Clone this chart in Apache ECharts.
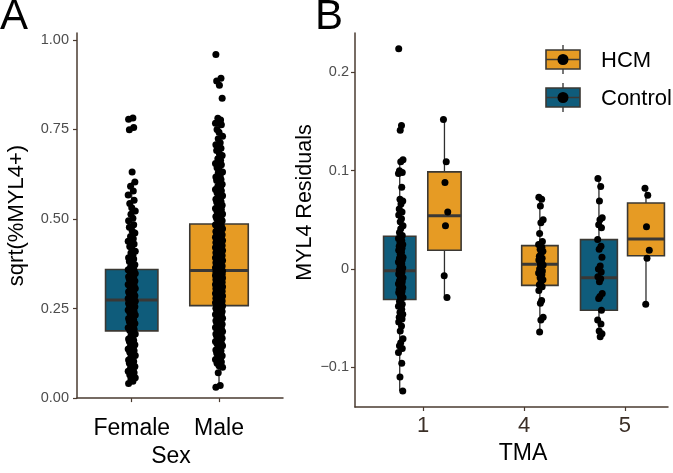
<!DOCTYPE html>
<html><head><meta charset="utf-8">
<script src="https://cdn.jsdelivr.net/npm/echarts@6/dist/echarts.min.js"></script>
<style>html,body{margin:0;padding:0;background:#fff}#c{width:673px;height:473px}</style>
</head><body><div id="c"></div>
<script>
// ---------- Panel A data ----------
const sexCategories = ['Female', 'Male'];
// [lower whisker, Q1, median, Q3, upper whisker]
const sexBoxStats = [
  [0.041, 0.1875, 0.274, 0.359, 0.603],
  [0.030, 0.258, 0.356, 0.486, 0.781]
];
const femaleValues = [
  0.041,0.047,0.053,0.057,0.062,0.065,0.071,0.075,0.079,0.084,0.088,0.094,0.097,0.102,0.106,0.111,0.115,0.119,0.123,0.128,0.132,0.137,0.140,0.146,0.149,0.152,0.158,0.161,0.165,0.169,0.173,0.179,0.184,
  0.189,0.192,0.196,0.200,0.203,0.208,0.211,0.214,0.218,0.222,0.225,0.229,0.232,0.236,0.239,0.242,0.246,0.249,0.251,0.255,0.257,0.260,0.262,0.265,0.267,0.268,0.270,0.272,0.273,
  0.276,0.278,0.281,0.284,0.286,0.288,0.292,0.294,0.297,0.301,0.303,0.306,0.309,0.312,0.315,0.317,0.321,0.323,0.327,0.330,0.332,0.336,0.339,0.341,0.345,0.348,0.351,0.354,0.356,0.358,
  0.363,0.366,0.372,0.375,0.381,0.388,0.392,0.399,0.405,0.410,0.418,0.423,0.430,0.438,0.445,0.451,0.461,0.467,0.477,0.484,0.495,0.502,0.513,0.522,0.531,0.543,0.552,0.567,0.578,0.591,0.603,
  0.631,0.749,0.755,0.778,0.782
];
const maleValues = [
  0.030,0.035,0.071,0.086,0.090,0.097,0.101,0.108,0.110,0.116,0.118,0.124,0.126,0.132,0.134,0.139,0.141,0.146,0.147,0.152,0.153,0.158,0.160,0.164,0.167,0.168,0.173,0.175,0.179,0.181,0.184,0.186,0.190,0.191,0.195,0.197,0.200,0.202,0.206,0.207,0.211,0.213,0.216,0.218,0.222,0.223,0.227,0.228,0.232,0.233,0.237,0.238,0.242,0.243,0.246,0.248,0.251,0.252,0.255,0.257,
  0.259,0.262,0.263,0.266,0.267,0.270,0.271,0.274,0.275,0.278,0.279,0.282,0.283,0.285,0.287,0.289,0.291,0.292,0.295,0.296,0.298,0.299,0.302,0.303,0.305,0.307,0.308,0.311,0.312,0.314,0.316,0.317,0.320,0.321,0.323,0.324,0.327,0.328,0.330,0.331,0.334,0.335,0.337,0.338,0.340,0.342,0.343,0.345,0.346,0.348,0.349,0.351,0.352,0.353,0.354,0.355,
  0.357,0.360,0.361,0.364,0.365,0.368,0.369,0.372,0.373,0.376,0.378,0.380,0.382,0.384,0.386,0.388,0.390,0.392,0.394,0.396,0.398,0.400,0.402,0.404,0.406,0.408,0.410,0.412,0.414,0.416,0.418,0.420,0.422,0.424,0.426,0.428,0.430,0.432,0.434,0.436,0.438,0.440,0.442,0.444,0.447,0.449,0.451,0.453,0.456,0.458,0.460,0.463,0.465,0.468,0.470,0.473,0.475,0.478,0.481,0.484,
  0.489,0.490,0.495,0.498,0.501,0.502,0.507,0.510,0.513,0.514,0.519,0.521,0.526,0.529,0.531,0.536,0.538,0.543,0.547,0.549,0.555,0.557,0.563,0.565,0.571,0.573,0.579,0.582,0.588,0.591,0.597,0.600,0.607,0.610,0.617,0.620,0.628,0.631,0.639,0.643,0.651,0.655,0.664,0.668,0.677,0.682,0.691,0.697,0.707,0.713,0.724,0.731,0.742,0.750,0.763,0.767,0.776,0.781,
  0.837,0.873,0.885,0.893,0.959
];

// ---------- Panel B data ----------
const tmaCategories = ['1', '4', '5'];
const groupNames = ['HCM', 'Control'];
const tmaBoxCategory = ['1', '1', '4', '5', '5'];
const tmaBoxGroup = ['Control', 'HCM', 'HCM', 'Control', 'HCM'];
const tmaBoxStats = [
  [-0.124, -0.031, -0.0017, 0.0332, 0.111],
  [-0.029, 0.019, 0.0542, 0.0987, 0.152],
  [-0.064, -0.0167, 0.0047, 0.0237, 0.073],
  [-0.069, -0.042, -0.0089, 0.0298, 0.092],
  [-0.036, 0.0135, 0.0305, 0.0671, 0.082]
];
const tma1ControlValues = [
  0.224,0.146,0.141,0.111,0.109,0.100,0.098,0.097,0.083,0.071,0.069,0.066,0.061,0.058,0.055,0.051,0.048,0.044,0.041,0.037,0.034,
  0.031,0.029,0.027,0.025,0.022,0.023,0.021,0.019,0.017,0.015,0.012,0.013,0.011,0.009,0.007,0.005,0.003,0.001,0.000,-0.001,
  -0.003,-0.005,-0.007,-0.008,-0.009,-0.011,-0.012,-0.013,-0.015,-0.016,-0.017,-0.019,-0.020,-0.021,-0.023,-0.024,-0.026,-0.027,-0.029,-0.030,
  -0.033,-0.036,-0.038,-0.041,-0.044,-0.046,-0.047,-0.049,-0.051,-0.054,-0.058,-0.063,-0.071,-0.075,-0.078,-0.081,-0.085,-0.096,-0.110,-0.124
];
const tma1HcmValues = [0.152, 0.109, 0.088, 0.058, 0.044, -0.007, -0.029];
const tma4HcmValues = [
  0.073,0.071,0.064,0.050,0.047,0.036,0.028,0.025,0.022,0.020,0.018,0.016,0.013,0.011,0.009,0.007,0.005,0.004,0.002,0.000,
  -0.002,-0.004,-0.006,-0.009,-0.011,-0.013,-0.016,-0.018,-0.022,-0.032,-0.035,-0.049,-0.052,-0.064
];
const tma5ControlValues = [
  0.092,0.084,0.069,0.052,0.050,0.045,0.042,0.030,0.023,0.020,0.012,0.003,0.000,-0.003,-0.008,-0.010,-0.013,-0.025,-0.028,-0.030,-0.042,-0.052,-0.056,-0.063,-0.066,-0.069
];
const tma5HcmValues = [0.082, 0.075, 0.043, 0.019, 0.011, -0.036];
const tmaPointSets = [tma1ControlValues, tma1HcmValues, tma4HcmValues, tma5ControlValues, tma5HcmValues];

// ---------- layout / style (not data) ----------
const COLORS = { HCM: '#E69B24', Control: '#0F5C7B' };
const BORDER = '#3b3833';
const AXIS = '#4a3b30';
const FONT = "'Liberation Sans', Arial, Helvetica, sans-serif";
const sexBoxColor = [COLORS.Control, COLORS.HCM];
const sexBoxWidth = [0.6, 0.67];
const tmaDodge = [-0.231, 0.212, 0.157, -0.258, 0.208];
const tmaBoxWidth = [0.32, 0.33, 0.36, 0.365, 0.365];
const jitterPattern = [-0.8, 0.3, -0.2, 0.9, 0.0, -0.5, 0.6, -0.9, 0.4, -0.3, 0.8, 0.1, -0.6, 0.5];

function jitter(values, center, half) {
  return values.map((v, i) => [center + jitterPattern[i % jitterPattern.length] * half, v]);
}

function boxRenderer(widths, colorFn) {
  return function (params, api) {
    const x = api.value(0);
    const lo = api.coord([x, api.value(1)]);
    const q1 = api.coord([x, api.value(2)]);
    const md = api.coord([x, api.value(3)]);
    const q3 = api.coord([x, api.value(4)]);
    const hi = api.coord([x, api.value(5)]);
    const w = api.size([widths[params.dataIndex], 0])[0];
    const wl = { stroke: '#2e2e2e', lineWidth: 1.3 };
    return {
      type: 'group',
      children: [
        { type: 'line', shape: { x1: hi[0], y1: hi[1], x2: q3[0], y2: q3[1] }, style: wl },
        { type: 'line', shape: { x1: q1[0], y1: q1[1], x2: lo[0], y2: lo[1] }, style: wl },
        { type: 'rect', shape: { x: q3[0] - w / 2, y: q3[1], width: w, height: q1[1] - q3[1] },
          style: { fill: colorFn(params.dataIndex), stroke: BORDER, lineWidth: 1.6 } },
        { type: 'line', shape: { x1: md[0] - w / 2, y1: md[1], x2: md[0] + w / 2, y2: md[1] },
          style: { stroke: '#3a3836', lineWidth: 3 } }
      ]
    };
  };
}

const chart = echarts.init(document.getElementById('c'), null, { renderer: 'canvas' });

const axisLineStyle = { show: true, onZero: false, lineStyle: { color: AXIS, width: 1.5 } };

const series = [];
series.push({
  type: 'custom', xAxisIndex: 0, yAxisIndex: 0, z: 2,
  renderItem: boxRenderer(sexBoxWidth, i => sexBoxColor[i]),
  encode: { x: 0, y: [1, 2, 3, 4, 5] },
  data: sexBoxStats.map((s, i) => [i + 1].concat(s))
});
[femaleValues, maleValues].forEach((vals, i) => {
  series.push({
    type: 'scatter', xAxisIndex: 0, yAxisIndex: 0, z: 5, symbolSize: 7,
    itemStyle: { color: '#000', opacity: 1 }, silent: true,
    data: jitter(vals, i + 1, 0.045)
  });
});
const tmaCenters = tmaBoxCategory.map((c, i) => tmaCategories.indexOf(c) + 1 + tmaDodge[i]);
series.push({
  type: 'custom', xAxisIndex: 1, yAxisIndex: 1, z: 2,
  renderItem: boxRenderer(tmaBoxWidth, i => COLORS[tmaBoxGroup[i]]),
  encode: { x: 0, y: [1, 2, 3, 4, 5] },
  data: tmaBoxStats.map((s, i) => [tmaCenters[i]].concat(s))
});
tmaPointSets.forEach((vals, i) => {
  series.push({
    type: 'scatter', xAxisIndex: 1, yAxisIndex: 1, z: 5, symbolSize: 7,
    itemStyle: { color: '#000', opacity: 1 }, silent: true,
    data: jitter(vals, tmaCenters[i] + 0.01, 0.025)
  });
});

// legend drawn as graphic
const legendItems = [];
groupNames.forEach((g, k) => {
  const top = 50 + k * 38, cx = 563, cy = top + 9.5;
  legendItems.push(
    { type: 'line', shape: { x1: cx, y1: top - 5, x2: cx, y2: top + 24 }, style: { stroke: '#2e2e2e', lineWidth: 1.3 } },
    { type: 'rect', shape: { x: 546, y: top, width: 34, height: 19 }, style: { fill: COLORS[g], stroke: BORDER, lineWidth: 1.6 } },
    { type: 'line', shape: { x1: 546, y1: cy, x2: 580, y2: cy }, style: { stroke: '#3a3836', lineWidth: 1.5 } },
    { type: 'circle', shape: { cx: cx, cy: cy, r: 5.5 }, style: { fill: '#000' } },
    { type: 'text', x: 601, y: cy + 1.5, style: { text: g, font: '22px ' + FONT, fill: '#000', verticalAlign: 'middle', align: 'left' } }
  );
});

chart.setOption({
  animation: false,
  backgroundColor: '#fff',
  textStyle: { fontFamily: FONT },
  grid: [
    { left: 77, top: 33, width: 206, height: 375 },
    { left: 355, top: 33, width: 313, height: 374 }
  ],
  xAxis: [
    {
      type: 'value', gridIndex: 0, min: 0.373, max: 2.733,
      axisLine: axisLineStyle,
      axisTick: { show: true, customValues: [1, 2], length: 4, lineStyle: { color: AXIS, width: 1.2 } },
      axisLabel: { customValues: [1, 2], formatter: v => sexCategories[Math.round(v) - 1], fontSize: 23, color: '#000', margin: 19 },
      splitLine: { show: false },
      name: 'Sex', nameLocation: 'middle', nameGap: 45,
      nameTextStyle: { fontSize: 23, color: '#000', padding: [0, 18, 0, 0] }
    },
    {
      type: 'value', gridIndex: 1, min: 0.326, max: 3.426,
      axisLine: axisLineStyle,
      axisTick: { show: true, customValues: [1, 2, 3], length: 4, lineStyle: { color: AXIS, width: 1.2 } },
      axisLabel: { customValues: [1, 2, 3], formatter: v => tmaCategories[Math.round(v) - 1], fontSize: 22, color: '#3b2f27', margin: 8 },
      splitLine: { show: false },
      name: 'TMA', nameLocation: 'middle', nameGap: 34,
      nameTextStyle: { fontSize: 23, color: '#000', padding: [0, 0, 0, 23] }
    }
  ],
  yAxis: [
    {
      type: 'value', gridIndex: 0, min: 0, max: 1.019,
      axisLine: axisLineStyle,
      axisTick: { show: true, customValues: [0, 0.25, 0.5, 0.75, 1], length: 4, lineStyle: { color: AXIS, width: 1.2 } },
      axisLabel: { customValues: [0, 0.25, 0.5, 0.75, 1], formatter: v => v.toFixed(2), fontSize: 14.5, color: '#4d4d4d', margin: 8 },
      splitLine: { show: false },
      name: 'sqrt(%MYL4+)', nameLocation: 'middle', nameGap: 49,
      nameTextStyle: { fontSize: 22, color: '#000' }
    },
    {
      type: 'value', gridIndex: 1, min: -0.1404, max: 0.240,
      axisLine: axisLineStyle,
      axisTick: { show: true, customValues: [-0.1, 0, 0.1, 0.2], length: 4, lineStyle: { color: AXIS, width: 1.2 } },
      axisLabel: {
        customValues: [-0.1, 0, 0.1, 0.2],
        formatter: v => (Math.abs(v) < 1e-9 ? '0' : (v < 0 ? '\u2212' + Math.abs(v) : String(v))),
        fontSize: 14.5, color: '#4d4d4d', margin: 6
      },
      splitLine: { show: false },
      name: 'MYL4 Residuals', nameLocation: 'middle', nameGap: 37,
      nameTextStyle: { fontSize: 21.5, color: '#000', padding: [0, 0, 0, 35] }
    }
  ],
  graphic: [
    { type: 'text', x: 0, y: 17, style: { text: 'A', font: '42px ' + FONT, fill: '#000', verticalAlign: 'middle' } },
    { type: 'text', x: 315, y: 17, style: { text: 'B', font: '42px ' + FONT, fill: '#000', verticalAlign: 'middle' } }
  ].concat(legendItems),
  series: series
});
</script></body></html>
